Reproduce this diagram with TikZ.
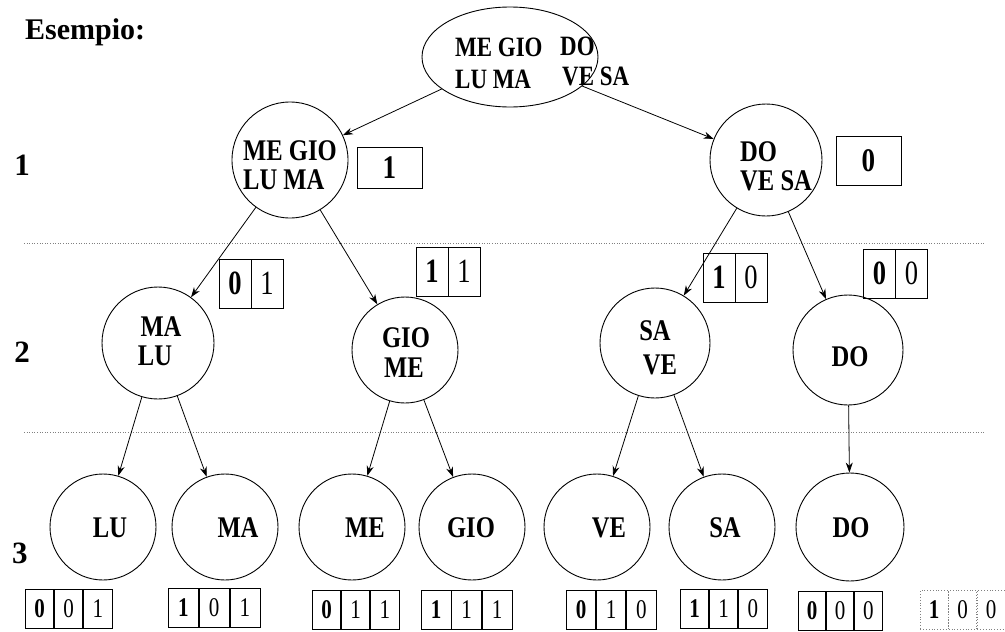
\documentclass[tikz,border=0pt]{standalone}
\usepackage{fontspec}
\setmainfont{Liberation Serif}
\newfontfamily\nf[FakeStretch=0.82]{Liberation Serif}
\newfontfamily\nfd[FakeStretch=0.78]{Liberation Serif}
\usetikzlibrary{arrows.meta,shapes.geometric}
\newcommand\bitbox[8]{% #1 name, #2 left x, #3 total width, #4 y centre, #5-#7 digits, #8 extra style
  \node[cell, minimum width=#3/3, anchor=west, #8] (#1a) at (#2,#4) {\bfseries #5};
  \node[cell, minimum width=#3/3, anchor=west, #8] (#1b) at (#1a.east) {#6};
  \node[cell, minimum width=#3/3, anchor=west, #8] (#1c) at (#1b.east) {#7};
}
\begin{document}
\begin{tikzpicture}[x=1pt,y=-1pt,
  lbl/.style={font=\fontsize{30}{32}\nf\bfseries, inner sep=0pt},
  toplbl/.style={font=\fontsize{28}{30}\nf\bfseries, inner sep=0pt},
  levlbl/.style={font=\fontsize{31}{33}\selectfont\bfseries, inner sep=0pt},
  circ/.style={draw, circle, line width=0.9pt, inner sep=0pt},
  arr/.style={-{Stealth[length=10pt,width=7pt]}, line width=0.8pt},
  bigbox/.style={draw, line width=0.8pt, inner sep=0pt, font=\fontsize{33}{35}\nf\bfseries},
  cell/.style={draw, line width=0.8pt, inner sep=0pt, font=\fontsize{27}{29}\nfd},
  cellb/.style={draw, line width=0.8pt, inner sep=0pt, font=\fontsize{34}{36}\nfd, minimum width=32, minimum height=49},
  sep/.style={dotted, line width=0.6pt, gray}]
\useasboundingbox (0,0) rectangle (1005,632);

\node[anchor=west, inner sep=0pt, font=\fontsize{30}{32}\selectfont\bfseries] (title) at (25,32) {Esempio:};

% level numbers
\node[levlbl] (lev1) at (22,165) {1};
\node[levlbl] (lev2) at (22,352) {2};
\node[levlbl] (lev3) at (20,553) {3};

% separators
\coordinate (s1a) at (24,243); \coordinate (s1b) at (985,243);
\coordinate (s2a) at (24,432); \coordinate (s2b) at (985,432);
\draw[sep] (s1a) -- (s1b);
\draw[sep] (s2a) -- (s2b);

% root
\node[draw, ellipse, line width=0.9pt, minimum width=176, minimum height=100, inner sep=0pt] (root) at (510,57) {};
\node[toplbl, anchor=west] (rt1) at (455,47) {ME GIO};
\node[toplbl, anchor=west] (rt2) at (560,46) {DO};
\node[toplbl, anchor=west] (rt3) at (455,79) {LU MA};
\node[toplbl, anchor=west] (rt4) at (562,76) {VE SA};

% level 1
\node[circ, minimum size=116] (n1) at (290,160) {};
\node[lbl, anchor=west] (n1t1) at (243,151) {ME GIO};
\node[lbl, anchor=west] (n1t2) at (243,180) {LU MA};
\node[bigbox, minimum width=65, minimum height=41] (b1) at (389.5,167.5) {1};

\node[circ, minimum size=112] (n0) at (766,160) {};
\node[lbl, anchor=west] (n0t1) at (740,152) {DO};
\node[lbl, anchor=west] (n0t2) at (740,181) {VE SA};
\node[bigbox, minimum width=65, minimum height=49] (b0) at (868.5,160.5) {0};

% level 2
\node[circ, minimum size=112] (n01) at (158,343) {};
\node[lbl] (n01t1) at (161,327) {MA};
\node[lbl] (n01t2) at (155,356) {LU};
\node[circ, minimum size=106] (n11) at (405,350) {};
\node[lbl] (n11t1) at (406,338) {GIO};
\node[lbl] (n11t2) at (404,368) {ME};
\node[circ, minimum size=110] (n10) at (655,343) {};
\node[lbl] (n10t1) at (655,331) {SA};
\node[lbl] (n10t2) at (660,365) {VE};
\node[circ, minimum size=110] (n00) at (848,350) {};
\node[lbl] (n00t1) at (850,357) {DO};

% level 2 code boxes
\node[cellb] (c01a) at (235,283.5) {\bfseries 0};
\node[cellb] (c01b) at (267,283.5) {1};
\node[cellb] (c11a) at (432,271.5) {\bfseries 1};
\node[cellb] (c11b) at (464,271.5) {1};
\node[cellb] (c10a) at (719,277.5) {\bfseries 1};
\node[cellb] (c10b) at (751,277.5) {0};
\node[cellb] (c00a) at (879.5,273.5) {\bfseries 0};
\node[cellb] (c00b) at (911.5,273.5) {0};

% level 3
\node[circ, minimum size=106] (lLU) at (103,527) {};
\node[lbl] (lLUt) at (110,528) {LU};
\node[circ, minimum size=106] (lMA) at (225,527) {};
\node[lbl] (lMAt) at (238,528) {MA};
\node[circ, minimum size=106] (lME) at (352,527) {};
\node[lbl] (lMEt) at (365,528) {ME};
\node[circ, minimum size=106] (lGIO) at (472,527) {};
\node[lbl] (lGIOt) at (471,528) {GIO};
\node[circ, minimum size=106] (lVE) at (597,527) {};
\node[lbl] (lVEt) at (609,528) {VE};
\node[circ, minimum size=106] (lSA) at (722,527) {};
\node[lbl] (lSAt) at (725,528) {SA};
\node[circ, minimum size=108] (lDO) at (850,527) {};
\node[lbl] (lDOt) at (851,528) {DO};

% level 3 code boxes
\bitbox{k001}{25}{85}{608.5}{0}{0}{1}{minimum height=39}
\bitbox{k101}{168}{90}{608}{1}{0}{1}{minimum height=39}
\bitbox{k011}{312}{85}{610}{0}{1}{1}{minimum height=39}
\bitbox{k111}{421}{89}{610}{1}{1}{1}{minimum height=39}
\bitbox{k010}{566}{88}{610}{0}{1}{0}{minimum height=39}
\bitbox{k110}{680}{85}{609}{1}{1}{0}{minimum height=39}
\bitbox{k000}{798}{82}{611}{0}{0}{0}{minimum height=39}
\bitbox{k100}{920}{83}{610}{1}{0}{0}{minimum height=39, dotted, draw=gray}

% connectors
\draw[arr] (root) -- (n1);
\draw[arr] (root) -- (n0);
\draw[arr] (n1) -- (n01);
\draw[arr] (n1) -- (n11);
\draw[arr] (n0) -- (n10);
\draw[arr] (n0) -- (n00);
\draw[arr] (n01) -- (lLU);
\draw[arr] (n01) -- (lMA);
\draw[arr] (n11) -- (lME);
\draw[arr] (n11) -- (lGIO);
\draw[arr] (n10) -- (lVE);
\draw[arr] (n10) -- (lSA);
\draw[arr] (n00) -- (lDO);
\end{tikzpicture}
\end{document}
